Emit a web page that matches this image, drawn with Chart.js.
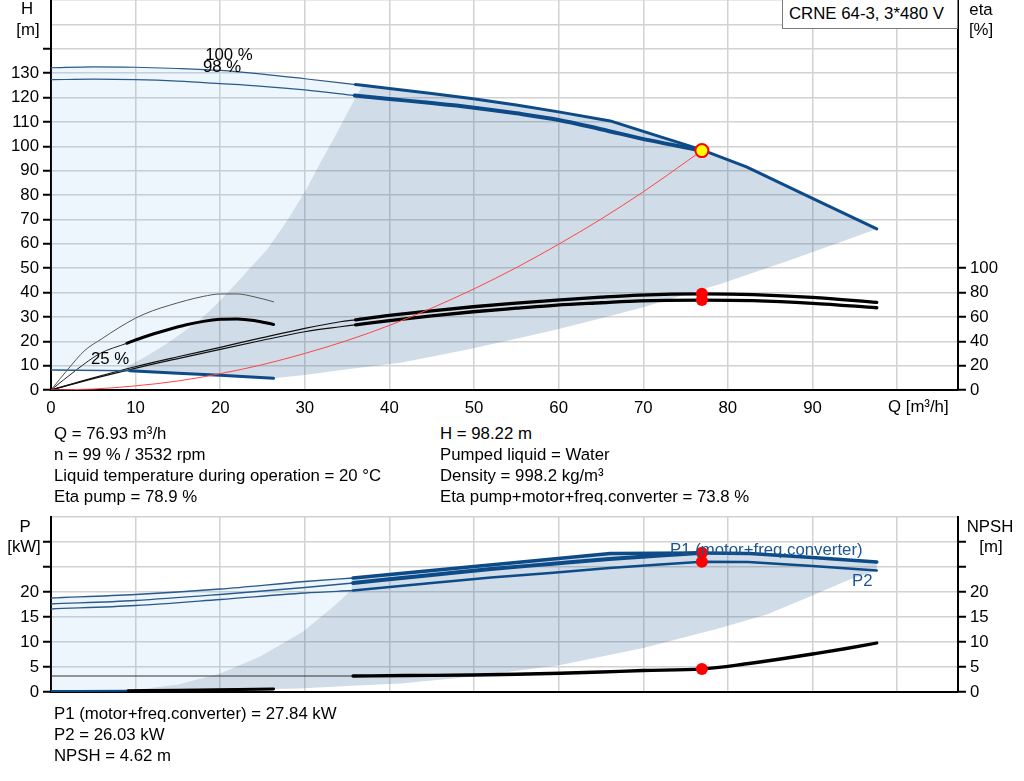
<!DOCTYPE html>
<html>
<head>
<meta charset="utf-8">
<title>CRNE 64-3 pump curve</title>
<script src="https://cdn.jsdelivr.net/npm/chart.js@4.4.1/dist/chart.umd.min.js"></script>
<style>
  html, body { margin:0; padding:0; background:#fff; }
  body { position:relative; width:1024px; height:781px; overflow:hidden;
         font-family:"Liberation Sans", Arial, sans-serif; font-size:16.8px; color:#000; }
  canvas { position:absolute; left:0; }
  .t { position:absolute; white-space:nowrap; line-height:20px; }
  .c { position:absolute; white-space:nowrap; line-height:20px; transform:translate(-50%,-50%); }
  .blue { color:#1c5592; }
  #legendBox { position:absolute; left:782px; top:0; width:176px; height:29px; box-sizing:border-box;
               border:1px solid #7a7a7a; border-top:none; background:#fff; padding-left:6px; line-height:27px; }
</style>
</head>
<body>
<canvas id="topChart" width="1024" height="420" style="top:0"></canvas>
<canvas id="botChart" width="1024" height="205" style="top:500px"></canvas>

<div id="legendBox">CRNE 64-3, 3*480 V</div>
<div class="c" style="left:27px;top:9px">H</div>
<div class="c" style="left:28px;top:30px">[m]</div>
<div class="c" style="left:981px;top:10px">eta</div>
<div class="c" style="left:981px;top:30px">[%]</div>
<div class="t" style="left:888px;top:397px">Q [m³/h]</div>
<div class="c" style="left:229px;top:55px">100 %</div>
<div class="c" style="left:222px;top:67px">98 %</div>
<div class="c" style="left:110px;top:359px">25 %</div>

<div class="t" style="left:54px;top:424px">Q = 76.93 m³/h</div>
<div class="t" style="left:54px;top:445px">n = 99 % / 3532 rpm</div>
<div class="t" style="left:54px;top:466px">Liquid temperature during operation = 20 °C</div>
<div class="t" style="left:54px;top:487px">Eta pump = 78.9 %</div>
<div class="t" style="left:440px;top:424px">H = 98.22 m</div>
<div class="t" style="left:440px;top:445px">Pumped liquid = Water</div>
<div class="t" style="left:440px;top:466px">Density = 998.2 kg/m³</div>
<div class="t" style="left:440px;top:487px">Eta pump+motor+freq.converter = 73.8 %</div>

<div class="c" style="left:25px;top:527px">P</div>
<div class="c" style="left:24px;top:547px">[kW]</div>
<div class="c" style="left:990px;top:527px">NPSH</div>
<div class="c" style="left:991px;top:547px">[m]</div>
<div class="t blue" style="left:670px;top:540px">P1 (motor+freq.converter)</div>
<div class="t blue" style="left:852px;top:571px">P2</div>

<div class="t" style="left:54px;top:704px">P1 (motor+freq.converter) = 27.84 kW</div>
<div class="t" style="left:54px;top:725px">P2 = 26.03 kW</div>
<div class="t" style="left:54px;top:746px">NPSH = 4.62 m</div>

<script>
// ---------------- tick values / axis ranges ----------------
const qTicks    = [0, 10, 20, 30, 40, 50, 60, 70, 80, 90, 100];
const qLabelMax = 90;
const qMax      = 107.2;
const hTicks    = [0, 10, 20, 30, 40, 50, 60, 70, 80, 90, 100, 110, 120, 130, 140, 150, 160];
const hLabelMax = 130, hStubMax = 140, hMaxAxis = 160;
const etaTicks  = [0, 20, 40, 60, 80, 100, 120, 140, 160, 180, 200, 220, 240, 260, 280, 300, 320];
const etaLabelMax = 100, etaMaxAxis = 320;
const pTicks    = [0, 5, 10, 15, 20, 25, 30, 35];
const pLabelMax = 20, pStubMax = 30, pMaxAxis = 35;

// ---------------- duty point ----------------
const dutyQ = 76.93, dutyH = 98.22, dutyEtaPump = 78.9, dutyEtaTotal = 73.8;
const dutyP1 = 27.84, dutyP2 = 26.03, dutyNPSH = 4.62;

// ---------------- head curves ----------------
const hMaxQ  = [0, 5, 10, 15, 20, 25, 30, 36, 36.8, 40, 45, 49.9, 55, 60, 66.1, 70, 76.93, 82.2, 90, 97.6];
const hMaxH  = [132.2, 132.6, 132.4, 131.9, 131.1, 129.6, 127.7, 125.3, 125.0, 123.7, 121.6, 119.5, 116.9, 114.1, 110.4, 106.1, 98.5, 91.5, 78.6, 66.1];
const hDutyQ = [0, 5, 10, 15, 20, 25, 30, 35.9, 40, 45, 50, 55, 60, 65, 70.8, 76.93];
const hDutyH = [127.3, 127.5, 127.3, 126.7, 125.7, 124.6, 123.1, 120.8, 119.4, 117.7, 115.8, 113.5, 110.8, 107.0, 102.4, 98.22];
const h25Q   = [0, 9.3, 15, 20, 26.3];
const h25H   = [8.2, 7.9, 6.9, 6.1, 4.8];
const sysQ   = [0, 5, 10, 15, 20, 25, 30, 35, 40, 45, 50, 55, 60, 65, 70, 76.93];
const sysH   = [0, 0.4, 1.7, 3.7, 6.7, 10.4, 15.0, 20.3, 26.5, 33.6, 41.5, 50.2, 59.8, 70.1, 81.3, 98.22];

// operating area (head diagram)
const opLowQ  = [26.3, 30, 35, 41.3, 49.1, 55, 60, 64.9, 70, 79.1, 87.4, 97.6];
const opLowH  = [4.8, 6.2, 8.5, 11.2, 16.5, 21.0, 25.0, 29.3, 34.0, 43.5, 53.3, 66.1];
const opLeftQ = [36.8, 35, 33.4, 31.8, 30.2, 28, 25.5, 23.5, 21.5, 19.5, 17.6, 15.5, 13.7, 11.3, 8.9, 8.6];
const opLeftH = [125.0, 113.5, 103, 93, 82.5, 70, 57.4, 50, 42.3, 35, 28.7, 23.5, 19.1, 14, 9.3, 8.0];

// ---------------- efficiency curves ----------------
const etaQ      = [0, 5, 9.93, 15, 20, 25, 30, 34.2, 36, 40, 45, 49.9, 55, 59.8, 65, 69.6, 76.93, 83, 90, 97.6];
const etaPump   = [0, 10, 19.1, 27.3, 35, 43, 50.6, 56, 57.6, 61.2, 65, 68.3, 71.2, 73.8, 76.2, 77.9, 78.9, 78.3, 76, 71.9];
const etaTotal  = [0, 9.3, 17.8, 25.8, 33.4, 40.8, 47.8, 51.9, 53.5, 57, 60.8, 64.2, 67.1, 69.7, 71.6, 73.2, 73.8, 73.3, 71.1, 67.5];
const eta25Q    = [0, 2, 4, 6, 8, 10, 12, 14, 16, 18, 20, 22, 24, 26.3];
const eta25Pump = [0, 17, 32.5, 42, 51, 59, 65, 69.5, 73.5, 76.8, 78.8, 78.8, 76.5, 72.4];
const eta25TotQ = [0, 3, 5.8, 8.95, 11, 13.7, 16, 18, 20, 22, 24, 26.3];
const eta25Tot  = [0, 16.5, 30, 38.3, 43.5, 49.2, 53.5, 56.3, 58, 58.3, 57, 53.8];

// ---------------- power / NPSH curves ----------------
const p1MaxQ  = [0, 10, 20, 30, 35.7, 45, 55, 66.1, 76.93, 82.6, 90, 97.6];
const p1MaxP  = [18.8, 19.5, 20.6, 22.1, 22.8, 24.3, 25.9, 27.7, 27.8, 27.7, 26.9, 26.0];
const p1DutyQ = [0, 10, 20, 30, 35.7, 45, 52, 59, 66, 72, 76.93];
const p1DutyP = [17.6, 18.3, 19.5, 20.9, 21.8, 23.4, 24.6, 25.6, 26.6, 27.3, 27.84];
const p2Q     = [0, 10, 20, 30, 35.7, 45, 52, 59, 66, 72, 76.93, 82.4, 90, 97.6];
const p2P     = [16.6, 17.3, 18.5, 19.8, 20.3, 21.8, 22.9, 23.8, 24.8, 25.5, 26.03, 26.0, 25.2, 24.3];
const p25Q    = [0, 9.1, 15, 20, 26.3];
const p25P    = [0.2, 0.25, 0.35, 0.45, 0.6];
const npshQ   = [0, 35.7, 42, 49.9, 55, 60.2, 65, 70, 76.93, 82, 86.6, 90, 94, 97.6];
const npshM   = [3.2, 3.2, 3.3, 3.4, 3.55, 3.75, 4.0, 4.3, 4.62, 5.6, 6.7, 7.6, 8.7, 9.8];

// operating area (power diagram)
const pOpLowQ  = [26.3, 29.4, 35, 41.3, 49.9, 60.2, 70, 79.1, 84.6, 90, 94.4, 97.6];
const pOpLowP  = [0.6, 0.7, 1.2, 1.7, 3.1, 5.4, 8.8, 12.8, 15.5, 19.3, 22.5, 24.3];
const pOpLeftQ = [35.7, 35.5, 33.4, 29.8, 24.7, 20, 15, 9.8, 9.1];
const pOpLeftP = [22.8, 20.4, 17.1, 12.1, 7.1, 3.7, 1.5, 0.4, 0.25];

// ---------------- helpers ----------------
const F = '"Liberation Sans", Arial, sans-serif';
const gridColor = '#d2d2d2';
const lightFill = 'rgba(100,170,240,0.11)';
const grayFill  = 'rgba(20,80,140,0.2)';
const blueThick = '#0d4a88';
const blueThin  = '#2a5a8c';

function pts(qs, vs, lo, hi) {
  const out = [];
  for (let i = 0; i < qs.length; i++) if (qs[i] >= lo && qs[i] <= hi) out.push({x: qs[i], y: vs[i]});
  return out;
}
function closed(a) { return a.concat([a[0]]); }
function line(data, axis, color, width, smooth) {
  const d = {data, yAxisID: axis, showLine: true, borderColor: color, borderWidth: width,
             pointRadius: 0, pointHoverRadius: 0, fill: false, tension: 0, order: 5,
             borderCapStyle: 'round', borderJoinStyle: 'round'};
  if (smooth) d.cubicInterpolationMode = 'monotone';
  return d;
}
function area(data, axis, color, order) {
  return {data, yAxisID: axis, showLine: true, borderWidth: 0, borderColor: 'rgba(0,0,0,0)',
          backgroundColor: color, fill: 'shape', pointRadius: 0, pointHoverRadius: 0, tension: 0, order};
}
function dots(data, axis, fillC, borderC, r, bw) {
  return {data, yAxisID: axis, showLine: false, pointRadius: r, pointHoverRadius: r,
          pointBackgroundColor: fillC, pointBorderColor: borderC, pointBorderWidth: bw, order: 0};
}
function axisX(heightPx, showLabels) {
  return {
    type: 'linear', position: 'bottom', min: 0, max: qMax,
    afterBuildTicks: s => { s.ticks = qTicks.map(v => ({value: v})); },
    afterFit: s => { s.height = heightPx; s.paddingLeft = 0; s.paddingRight = 0; },
    border: {display: true, color: '#000', width: 2},
    grid: {color: gridColor, lineWidth: 1.5, drawTicks: true, tickLength: 6, tickColor: 'rgba(0,0,0,0)'},
    ticks: {display: showLabels, color: '#000', font: {family: F, size: 16.8}, padding: 2,
            maxRotation: 0, autoSkip: false, callback: v => (v <= qLabelMax ? String(v) : '')}
  };
}
function axisY(pos, max, ticks, labelMax, stubMax, widthPx, onChart) {
  return {
    type: 'linear', position: pos, min: 0, max,
    afterBuildTicks: s => { s.ticks = ticks.map(v => ({value: v})); },
    afterFit: s => { s.width = widthPx; s.paddingTop = 0; s.paddingBottom = 0; },
    border: {display: true, color: '#000', width: 2},
    grid: {drawOnChartArea: onChart, color: gridColor, lineWidth: 1.5, tickLength: 8, tickWidth: 2,
           tickColor: c => (c.tick && c.tick.value <= stubMax) ? '#000' : 'rgba(0,0,0,0)'},
    ticks: {color: '#000', font: {family: F, size: 16.8}, padding: 4, autoSkip: false,
            callback: v => (v <= labelMax ? String(v) : '')}
  };
}
const commonOpts = {
  responsive: false, animation: false, events: [],
  plugins: {legend: {display: false}, tooltip: {enabled: false}, title: {display: false}},
};

// ---------------- top diagram (H / eta) ----------------
const lightTopPoly = closed(
  pts(hMaxQ, hMaxH, 0, 36.8)
    .concat(pts(opLeftQ, opLeftH, 0, 36.79))
    .concat(pts(h25Q, h25H, 0, 8.6).reverse()));
const grayTopPoly = closed(
  pts(opLowQ, opLowH, 0, 200)
    .concat(pts(hMaxQ, hMaxH, 36.9, 97).reverse())
    .concat(pts(opLeftQ, opLeftH, 0, 200))
    .concat(pts(h25Q, h25H, 9, 30)));

const topDatasets = [
  dots([{x: dutyQ, y: dutyH}], 'y', '#ffff00', '#ff0000', 6.5, 2),
  dots([{x: dutyQ, y: dutyEtaPump}, {x: dutyQ, y: dutyEtaTotal}], 'y2', '#ff0000', '#ff0000', 6, 0),
  line(pts(sysQ, sysH, 0, 100), 'y', '#ff4444', 1, true),
  line(pts(hMaxQ, hMaxH, 36, 200), 'y', blueThick, 3, false),
  line(pts(hDutyQ, hDutyH, 35.9, 200), 'y', blueThick, 4, true),
  line(pts(hMaxQ, hMaxH, 0, 36), 'y', blueThin, 1.2, true),
  line(pts(hDutyQ, hDutyH, 0, 35.9), 'y', blueThin, 1.2, true),
  line(pts(h25Q, h25H, 0, 9.3), 'y', blueThin, 1.3, false),
  line(pts(h25Q, h25H, 9.3, 30), 'y', blueThick, 3, false),
  line(pts(etaQ, etaPump, 36, 200), 'y2', '#000', 3.3, true),
  line(pts(etaQ, etaTotal, 36, 200), 'y2', '#000', 3.3, true),
  line(pts(etaQ, etaPump, 0, 36), 'y2', '#111', 1.2, true),
  line(pts(etaQ, etaTotal, 0, 36), 'y2', '#111', 1.2, true),
  line(pts(eta25Q, eta25Pump, 0, 30), 'y2', '#555', 1, true),
  line(pts(eta25TotQ, eta25Tot, 0, 8.95), 'y2', '#222', 1, true),
  line(pts(eta25TotQ, eta25Tot, 8.95, 30), 'y2', '#000', 3, true),
  area(grayTopPoly, 'y', grayFill, 19),
  area(lightTopPoly, 'y', lightFill, 20)
];

new Chart(document.getElementById('topChart'), {
  type: 'line',
  data: {datasets: topDatasets},
  options: Object.assign({}, commonOpts, {
    layout: {autoPadding: false, padding: {top: 0, left: 0, right: 0, bottom: 0}},
    scales: {
      x: axisX(30, true),
      y: axisY('left', hMaxAxis, hTicks, hLabelMax, hStubMax, 51, true),
      y2: axisY('right', etaMaxAxis, etaTicks, etaLabelMax, etaLabelMax, 66, false)
    }
  })
});

// ---------------- bottom diagram (P / NPSH) ----------------
const lightBotPoly = closed(
  pts(p1MaxQ, p1MaxP, 0, 35.7)
    .concat(pts(pOpLeftQ, pOpLeftP, 0, 35.69))
    .concat(pts(p25Q, p25P, 0, 9.0).reverse()));
const grayBotPoly = closed(
  pts(pOpLowQ, pOpLowP, 0, 200)
    .concat(pts(p1MaxQ, p1MaxP, 35.7, 200).reverse())
    .concat(pts(pOpLeftQ, pOpLeftP, 0, 35.69))
    .concat(pts(p25Q, p25P, 9.1, 30)));

const botDatasets = [
  dots([{x: dutyQ, y: dutyP1}, {x: dutyQ, y: dutyP2}], 'y', '#ff0000', '#ff0000', 6, 0),
  dots([{x: dutyQ, y: dutyNPSH}], 'y2', '#ff0000', '#ff0000', 6, 0),
  line(pts(p1MaxQ, p1MaxP, 35.7, 200), 'y', blueThick, 3.5, false),
  line(pts(p1DutyQ, p1DutyP, 35.7, 200), 'y', blueThick, 4, true),
  line(pts(p2Q, p2P, 35.7, 200), 'y', blueThick, 2.5, false),
  line(pts(p1MaxQ, p1MaxP, 0, 35.7), 'y', blueThin, 1.3, true),
  line(pts(p1DutyQ, p1DutyP, 0, 35.7), 'y', blueThin, 1.3, true),
  line(pts(p2Q, p2P, 0, 35.7), 'y', blueThin, 1.3, true),
  line(pts(p25Q, p25P, 9.1, 30), 'y', '#000', 3, true),
  line(pts(p25Q, p25P, 0, 30), 'y', blueThick, 2, true),
  line(pts(npshQ, npshM, 35.7, 200), 'y2', '#000', 3.3, true),
  line(pts(npshQ, npshM, 0, 35.7), 'y2', '#333', 1, false),
  area(grayBotPoly, 'y', grayFill, 19),
  area(lightBotPoly, 'y', lightFill, 20)
];

new Chart(document.getElementById('botChart'), {
  type: 'line',
  data: {datasets: botDatasets},
  options: Object.assign({}, commonOpts, {
    layout: {autoPadding: false, padding: {top: 17, left: 0, right: 0, bottom: 0}},
    scales: {
      x: axisX(13, false),
      y: axisY('left', pMaxAxis, pTicks, pLabelMax, pStubMax, 51, true),
      y2: axisY('right', pMaxAxis, pTicks, pLabelMax, pStubMax, 66, false)
    }
  })
});
</script>
</body>
</html>
